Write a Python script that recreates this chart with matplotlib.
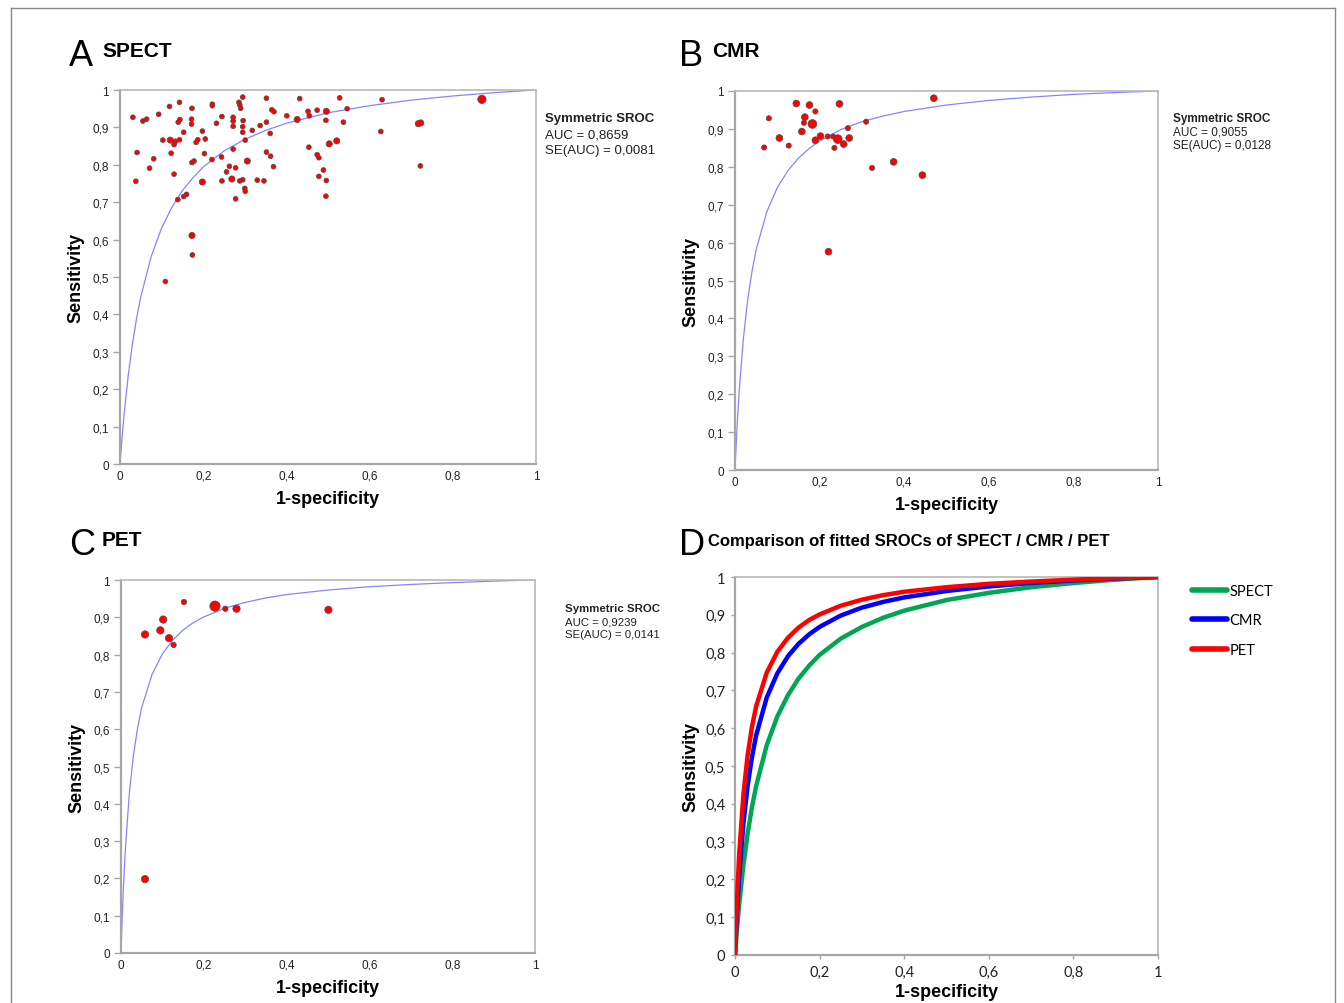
import matplotlib
matplotlib.use("Agg")
import matplotlib.pyplot as plt
from matplotlib.lines import Line2D

# ---------------- data ----------------
# Panel A: SPECT studies (1-specificity, sensitivity, relative study weight)
spect_fpr = [0.031, 0.041, 0.038, 0.055, 0.064, 0.071, 0.081, 0.093, 0.103, 0.109,
             0.119, 0.121, 0.123, 0.130, 0.133, 0.130, 0.139, 0.140, 0.144, 0.143,
             0.143, 0.153, 0.153, 0.160, 0.173, 0.172, 0.172, 0.173, 0.174, 0.173,
             0.178, 0.183, 0.187, 0.198, 0.198, 0.203, 0.205, 0.222, 0.222, 0.221,
             0.232, 0.245, 0.244, 0.245, 0.256, 0.263, 0.269, 0.272, 0.272, 0.272,
             0.272, 0.278, 0.278, 0.286, 0.288, 0.290, 0.295, 0.296, 0.295, 0.295,
             0.288, 0.295, 0.300, 0.301, 0.301, 0.306, 0.318, 0.330, 0.337, 0.346,
             0.352, 0.352, 0.352, 0.362, 0.361, 0.365, 0.370, 0.369, 0.401, 0.426,
             0.432, 0.452, 0.455, 0.454, 0.474, 0.478, 0.489, 0.478, 0.496, 0.495,
             0.474, 0.496, 0.495, 0.503, 0.521, 0.528, 0.546, 0.537, 0.630, 0.627,
             0.717, 0.723, 0.722, 0.870]
spect_sens = [0.927, 0.833, 0.756, 0.917, 0.922, 0.791, 0.816, 0.935, 0.866, 0.488,
              0.956, 0.866, 0.831, 0.854, 0.863, 0.775, 0.707, 0.914, 0.921, 0.967,
              0.867, 0.887, 0.715, 0.721, 0.951, 0.922, 0.909, 0.611, 0.559, 0.806,
              0.810, 0.860, 0.867, 0.890, 0.754, 0.830, 0.869, 0.962, 0.958, 0.814,
              0.911, 0.929, 0.821, 0.757, 0.781, 0.796, 0.762, 0.927, 0.917, 0.903,
              0.842, 0.792, 0.709, 0.967, 0.960, 0.951, 0.981, 0.918, 0.902, 0.887,
              0.757, 0.760, 0.737, 0.729, 0.866, 0.810, 0.892, 0.759, 0.905, 0.757,
              0.978, 0.914, 0.834, 0.823, 0.884, 0.947, 0.942, 0.795, 0.931, 0.921,
              0.977, 0.943, 0.931, 0.847, 0.827, 0.819, 0.786, 0.769, 0.758, 0.716,
              0.946, 0.943, 0.919, 0.856, 0.864, 0.979, 0.950, 0.914, 0.974, 0.889,
              0.910, 0.912, 0.797, 0.975]
spect_weight = [1, 1, 1, 1, 1, 1, 1, 1, 1, 1,
                1, 2, 1, 1, 1, 1, 1, 1, 1, 1,
                1, 1, 1, 1, 1, 1, 1, 2, 1, 1,
                1, 1, 1, 1, 2, 1, 1, 1, 1, 1,
                1, 1, 1, 1, 1, 1, 2, 1, 1, 1,
                1, 1, 1, 1, 1, 1, 1, 1, 1, 1,
                1, 1, 1, 1, 1, 2, 1, 1, 1, 1,
                1, 1, 1, 1, 1, 1, 1, 1, 1, 2,
                1, 1, 1, 1, 1, 1, 1, 1, 1, 1,
                1, 2, 1, 2, 2, 1, 1, 1, 1, 1,
                2, 2, 1, 3]

# Panel B: CMR studies
cmr_fpr = [0.069, 0.080, 0.105, 0.127, 0.145, 0.158, 0.163, 0.165, 0.176, 0.183,
           0.190, 0.190, 0.202, 0.219, 0.232, 0.243, 0.235, 0.247, 0.257, 0.270,
           0.267, 0.310, 0.324, 0.375, 0.443, 0.470, 0.221]
cmr_sens = [0.851, 0.928, 0.876, 0.856, 0.967, 0.893, 0.916, 0.931, 0.963, 0.913,
            0.946, 0.870, 0.881, 0.880, 0.880, 0.873, 0.850, 0.966, 0.860, 0.876,
            0.902, 0.919, 0.797, 0.813, 0.778, 0.981, 0.576]
cmr_weight = [1, 1, 2, 1, 2, 2, 1, 2, 2, 3,
              1, 2, 2, 1, 1, 3, 1, 2, 2, 2,
              1, 1, 1, 2, 2, 2, 2]

# Panel C: PET studies
pet_fpr = [0.058, 0.095, 0.102, 0.116, 0.127, 0.152, 0.227, 0.252, 0.279, 0.501, 0.058]
pet_sens = [0.854, 0.865, 0.894, 0.844, 0.826, 0.941, 0.930, 0.923, 0.923, 0.920, 0.198]
pet_weight = [2, 2, 2, 2, 1, 1, 3, 1, 2, 2, 2]

# Fitted symmetric SROC curves
sroc_fpr = [0, 0.002, 0.005, 0.01, 0.02, 0.03, 0.04, 0.05, 0.075, 0.1, 0.125, 0.15,
            0.175, 0.2, 0.25, 0.3, 0.35, 0.4, 0.5, 0.6, 0.7, 0.8, 0.9, 1.0]
sroc_spect = [0, 0.030, 0.072, 0.135, 0.239, 0.322, 0.391, 0.447, 0.555, 0.631, 0.687,
              0.731, 0.765, 0.794, 0.837, 0.868, 0.892, 0.911, 0.939, 0.958, 0.973,
              0.984, 0.993, 1.0]
sroc_cmr = [0, 0.050, 0.117, 0.210, 0.349, 0.449, 0.523, 0.581, 0.681, 0.745, 0.790,
            0.823, 0.848, 0.868, 0.898, 0.919, 0.934, 0.946, 0.963, 0.975, 0.984,
            0.991, 0.996, 1.0]
sroc_pet = [0, 0.068, 0.155, 0.269, 0.427, 0.530, 0.603, 0.658, 0.747, 0.802, 0.839,
            0.866, 0.886, 0.901, 0.924, 0.940, 0.952, 0.961, 0.973, 0.982, 0.988,
            0.993, 0.997, 1.0]

auc_text = {
    "A": ["Symmetric SROC", "AUC = 0,8659", "SE(AUC) = 0,0081"],
    "B": ["Symmetric SROC", "AUC = 0,9055", "SE(AUC) = 0,0128"],
    "C": ["Symmetric SROC", "AUC = 0,9239", "SE(AUC) = 0,0141"],
}

y_ticks = [0, 0.1, 0.2, 0.3, 0.4, 0.5, 0.6, 0.7, 0.8, 0.9, 1.0]
y_ticklabels = ["0", "0,1", "0,2", "0,3", "0,4", "0,5", "0,6", "0,7", "0,8", "0,9", "1"]
x_ticks = [0, 0.2, 0.4, 0.6, 0.8, 1.0]
x_ticklabels = ["0", "0,2", "0,4", "0,6", "0,8", "1"]

legend_labels = ["SPECT", "CMR", "PET"]

# ---------------- figure ----------------
W, H = 1344, 1004
fig = plt.figure(figsize=(W / 100, H / 100), dpi=100)
fig.patch.set_facecolor("white")
plt.rcParams["font.family"] = ["Liberation Sans", "DejaVu Sans"]


def px_axes(x0, y_top, x1, y_bot):
    return fig.add_axes([x0 / W, 1 - y_bot / H, (x1 - x0) / W, (y_bot - y_top) / H])


def style_sroc_axes(ax):
    ax.set_xlim(0, 1)
    ax.set_ylim(0, 1)
    for s in ["left", "bottom"]:
        ax.spines[s].set_color("#a6a6a6")
        ax.spines[s].set_linewidth(1.6)
    for s in ["top", "right"]:
        ax.spines[s].set_color("#b8b8b8")
        ax.spines[s].set_linewidth(1.2)
    ax.set_yticks(y_ticks)
    ax.set_yticklabels(y_ticklabels)
    ax.set_xticks(x_ticks)
    ax.set_xticklabels(x_ticklabels)
    ax.tick_params(axis="y", direction="out", length=5, width=1, color="#a6a6a6",
                   labelsize=8.5, labelcolor="#222222", pad=3)
    ax.tick_params(axis="x", direction="out", length=0, width=1, color="#a6a6a6",
                   labelsize=8.5, labelcolor="#222222", pad=4)
    ax.set_xlabel("1-specificity", fontsize=13, fontweight="bold", labelpad=6)
    ax.set_ylabel("Sensitivity", fontsize=13, fontweight="bold", labelpad=6)


def scatter_panel(ax, fpr, sens, weight, curve, sizes):
    ax.plot(sroc_fpr, curve, color="#8585ff", lw=0.9, zorder=2)
    s = [sizes[w] for w in weight]
    ax.scatter(fpr, sens, s=s, facecolor="#ff0000", edgecolor="#4d4d4d",
               linewidths=0.5, zorder=3, clip_on=False)


axA = px_axes(120, 91, 536, 465)
axB = px_axes(735, 92, 1158, 471)
axC = px_axes(121, 581, 535, 954)
axD = px_axes(735, 578, 1158, 956)

for ax in (axA, axB, axC):
    style_sroc_axes(ax)

scatter_panel(axA, spect_fpr, spect_sens, spect_weight, sroc_spect, {1: 12, 2: 20, 3: 36})
scatter_panel(axB, cmr_fpr, cmr_sens, cmr_weight, sroc_cmr, {1: 14, 2: 24, 3: 40})
scatter_panel(axC, pet_fpr, pet_sens, pet_weight, sroc_pet, {1: 15, 2: 28, 3: 55})

# panel letters / titles
def panel_title(x, y, letter, title, tsize=15, lsize=26):
    fig.text(x / W, 1 - y / H, letter, fontsize=lsize, va="top", ha="left")
    fig.text((x + 33) / W, 1 - (y + 3) / H, title, fontsize=tsize, fontweight="bold",
             va="top", ha="left")

panel_title(69, 39, "A", "SPECT")
panel_title(679, 39, "B", "CMR")
panel_title(69, 528, "C", "PET")
fig.text(679 / W, 1 - 528 / H, "D", fontsize=26, va="top", ha="left")
fig.text(708 / W, 1 - 534 / H, "Comparison of fitted SROCs of SPECT / CMR / PET",
         fontsize=12, fontweight="bold", va="top", ha="left")

# AUC annotations
def auc_block(x, y, lines, size, step):
    fig.text(x / W, 1 - y / H, lines[0], fontsize=size, fontweight="bold", va="top",
             ha="left", color="#222222")
    for i, t in enumerate(lines[1:], start=1):
        fig.text(x / W, 1 - (y + i * step) / H, t, fontsize=size, va="top", ha="left",
                 color="#222222")

auc_block(545, 113, auc_text["A"], 9.5, 16)
auc_block(1173, 113, auc_text["B"], 8.5, 13.5)
auc_block(565, 604, auc_text["C"], 8.2, 13.2)

# ---------------- panel D ----------------
axD.set_xlim(0, 1)
axD.set_ylim(0, 1)
for s in ["left", "bottom"]:
    axD.spines[s].set_color("#a6a6a6")
    axD.spines[s].set_linewidth(1.6)
for s in ["top", "right"]:
    axD.spines[s].set_color("#b8b8b8")
    axD.spines[s].set_linewidth(1.2)
lg, = axD.plot(sroc_fpr, sroc_spect, color="#00a650", lw=3.2, solid_capstyle="butt", zorder=3)
lb, = axD.plot(sroc_fpr, sroc_cmr, color="#0000ff", lw=3.2, solid_capstyle="butt", zorder=4)
lr, = axD.plot(sroc_fpr, sroc_pet, color="#ff0000", lw=3.2, solid_capstyle="butt", zorder=5)
axD.set_yticks(y_ticks)
axD.set_yticklabels(y_ticklabels, fontfamily="Lato")
axD.set_xticks(x_ticks)
axD.set_xticklabels(x_ticklabels, fontfamily="Lato")
axD.tick_params(axis="both", direction="out", length=3, width=1, color="#a6a6a6",
                labelsize=10.5, labelcolor="#222222", pad=4)
axD.set_xlabel("1-specificity", fontsize=13, fontweight="bold", labelpad=3)
axD.set_ylabel("Sensitivity", fontsize=13, fontweight="bold", labelpad=4)

leg = fig.legend([lg, lb, lr], legend_labels, loc="upper left",
                 bbox_to_anchor=(1192 / W, 1 - 585 / H), frameon=False,
                 prop={"family": "Lato", "size": 10.5}, handlelength=2.4,
                 handletextpad=0.15, labelspacing=1.05, borderpad=0, borderaxespad=0)
for h in leg.get_lines():
    h.set_linewidth(4)
    h.set_solid_capstyle("round")

# outer frame
frame_color = "#888888"
fig.add_artist(Line2D([10.5 / W, 1335 / W], [1 - 9 / H, 1 - 9 / H], color=frame_color, lw=1))
fig.add_artist(Line2D([10.5 / W, 10.5 / W], [0, 1 - 9 / H], color=frame_color, lw=1))
fig.add_artist(Line2D([1335 / W, 1335 / W], [0, 1 - 9 / H], color=frame_color, lw=1))

fig.savefig("out.png", dpi=100, facecolor="white")
